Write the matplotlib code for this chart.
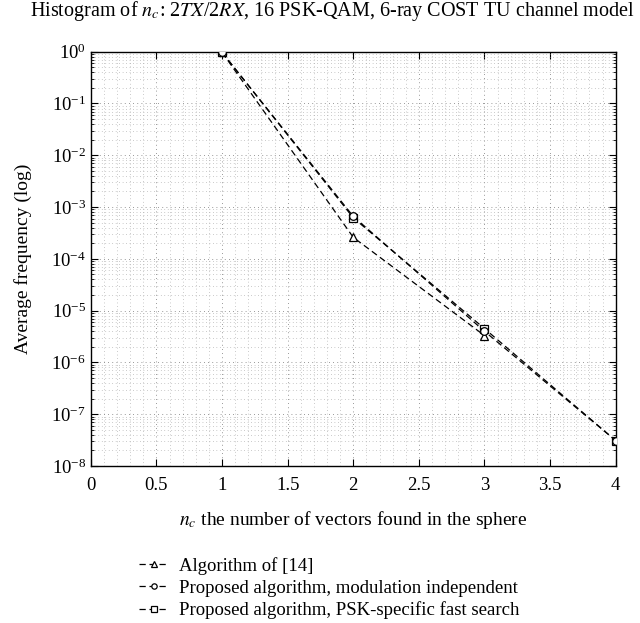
import matplotlib.pyplot as plt
from matplotlib.ticker import LogLocator, NullFormatter

plt.rcParams.update(
    {
        "font.family": "serif",
        "font.serif": ["Liberation Serif", "DejaVu Serif"],
        "mathtext.fontset": "stix",
        "font.size": 13,
    }
)

# values
nc_tri = [1, 2, 3]
freq_tri = [0.97, 2.6e-4, 3.3e-6]

nc_circ = [1, 2, 3, 4]
freq_circ = [0.97, 6.6e-4, 4.0e-6, 3.1e-8]

nc_sq = [1, 2, 3, 4]
freq_sq = [0.97, 6.2e-4, 4.5e-6, 3.1e-8]

x_ticks = [0, 0.5, 1, 1.5, 2, 2.5, 3, 3.5, 4]
x_ticklabels = ["0", "0.5", "1", "1.5", "2", "2.5", "3", "3.5", "4"]

labels = [
    "Algorithm of [14]",
    "Proposed algorithm, modulation independent",
    "Proposed algorithm, PSK-specific fast search",
]

fig = plt.figure(figsize=(6.4, 6.23), dpi=100)
ax = fig.add_axes([0.142, 0.252, 0.820, 0.665])

style = dict(color="black", linestyle="--", linewidth=0.9, markersize=5.5,
             markerfacecolor="white", markeredgewidth=0.9, dashes=(5, 3))
ax.semilogy(nc_tri, freq_tri, marker="^", label=labels[0], **style)
ax.semilogy(nc_circ, freq_circ, marker="o", label=labels[1], zorder=3, **style)
ax.semilogy(nc_sq, freq_sq, marker="s", label=labels[2], zorder=2.5, **style)

ax.set_xlim(0, 4)
ax.set_ylim(1e-8, 1)
ax.set_xticks(x_ticks)
ax.set_xticklabels(x_ticklabels)
ax.set_xticks([i / 10 for i in range(41)], minor=True)
ax.yaxis.set_major_locator(LogLocator(base=10, numticks=12))
ax.yaxis.set_minor_locator(LogLocator(base=10, subs=range(2, 10), numticks=12))
ax.yaxis.set_minor_formatter(NullFormatter())

ax.tick_params(which="both", direction="in", top=True, right=True, labelsize=13.5)
ax.tick_params(which="major", length=5)
ax.tick_params(which="minor", length=2.5)
ax.tick_params(axis="x", which="minor", length=0)
ax.tick_params(axis="x", pad=8)

ax.grid(True, which="major", linestyle=(0, (1, 4)), color="#777777", linewidth=0.6)
ax.grid(True, which="minor", linestyle=(0, (1, 4)), color="#999999", linewidth=0.5)
for s in ax.spines.values():
    s.set_linewidth(1.0)

ax.set_title("Histogram of $n_c$: 2$TX$/2$RX$, 16 PSK-QAM, 6-ray COST TU channel model",
             fontsize=14.5, pad=26, x=0.461)
ax.set_xlabel("$n_c$ the number of vectors found in the sphere", fontsize=14, labelpad=11)
ax.set_ylabel("Average frequency (log)", fontsize=14, labelpad=14)

handles, labs = ax.get_legend_handles_labels()
fig.legend(handles, labs, loc="upper left", bbox_to_anchor=(0.206, 0.118),
           frameon=False, fontsize=13.5, handlelength=1.6, markerscale=0.7,
           labelspacing=0.25, handletextpad=0.5, borderaxespad=0)

fig.savefig("out.png", dpi=100)
